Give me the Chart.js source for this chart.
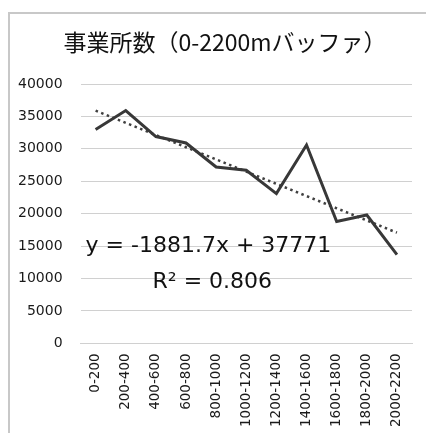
<!DOCTYPE html>
<html>
<head>
<meta charset="utf-8">
<script src="https://cdn.jsdelivr.net/npm/chart.js@4/dist/chart.umd.min.js"></script>
<style>
  html, body { margin: 0; padding: 0; background: #fff; overflow: hidden; }
  #frame {
    position: absolute; left: 8px; top: 12px; width: 440px; height: 440px;
    border-left: 2px solid #c8c8c8; border-top: 2px solid #c8c8c8;
    box-sizing: border-box;
  }
  #wrap { position: absolute; left: 0; top: 0; width: 426px; height: 433px; }
</style>
</head>
<body>
<div id="frame"></div>
<div id="wrap"><canvas id="c"></canvas></div>
<script>
// Distance bands (m) and number of establishments in each band
const bands = ['0-200', '200-400', '400-600', '600-800', '800-1000', '1000-1200',
               '1200-1400', '1400-1600', '1600-1800', '1800-2000', '2000-2200'];
const establishments = [33000, 35900, 31900, 30900, 27200, 26700, 23100, 30600, 18800, 19800, 13700];

// Linear trend reported for the series: y = slope * x + intercept, x = 1..n
const trendSlope = -1881.7;
const trendIntercept = 37771;
const trendR2 = 0.806;

// y axis ticks
const yTicks = [0, 5000, 10000, 15000, 20000, 25000, 30000, 35000, 40000];

const chartTitle = '事業所数（0-2200mバッファ）';

const trendValues = bands.map((_, i) => trendSlope * (i + 1) + trendIntercept);

const equationText = 'y = ' + trendSlope + 'x + ' + trendIntercept;
const r2Text = 'R² = ' + trendR2;

// Title, trendline equation and R² drawn on top of the chart
const textLayer = {
  id: 'textLayer',
  afterDraw(chart) {
    const { ctx, chartArea, scales } = chart;
    ctx.save();
    ctx.fillStyle = '#111';
    ctx.textBaseline = 'middle';

    ctx.font = '23px "Noto Sans CJK JP"';
    ctx.textAlign = 'center';
    ctx.fillText(chartTitle, 225, 42);

    ctx.font = '22px "DejaVu Sans"';
    ctx.textAlign = 'left';
    ctx.fillText(equationText, chartArea.left + 5, scales.y.getPixelForValue(15000));
    ctx.fillText(r2Text, chartArea.left + 72, scales.y.getPixelForValue(9400));
    ctx.restore();
  }
};

new Chart(document.getElementById('c'), {
  type: 'line',
  data: {
    labels: bands,
    datasets: [
      {
        label: '事業所数',
        data: establishments,
        borderColor: '#383838',
        borderWidth: 3,
        pointRadius: 0,
        tension: 0,
        order: 1
      },
      {
        label: '線形近似',
        data: trendValues,
        borderColor: '#404040',
        borderWidth: 2.5,
        borderDash: [2.5, 3.5],
        pointRadius: 0,
        tension: 0,
        order: 2
      }
    ]
  },
  options: {
    responsive: true,
    maintainAspectRatio: false,
    animation: false,
    layout: { padding: { left: 0, right: 14, top: 84, bottom: -4 } },
    plugins: {
      legend: { display: false },
      tooltip: { enabled: false },
      title: { display: false }
    },
    scales: {
      x: {
        offset: true,
        grid: { display: false, drawTicks: false },
        border: { display: true, color: '#d0d0d0', width: 1 },
        ticks: {
          color: '#1a1a1a',
          font: { family: '"DejaVu Sans"', size: 13.5 },
          minRotation: 90,
          maxRotation: 90,
          autoSkip: false,
          padding: 10
        }
      },
      y: {
        min: 0,
        max: 40000,
        afterBuildTicks(scale) { scale.ticks = yTicks.map(v => ({ value: v })); },
        grid: { color: '#d0d0d0', lineWidth: 1, drawTicks: false },
        border: { display: false },
        ticks: {
          color: '#1a1a1a',
          font: { family: '"DejaVu Sans"', size: 14 },
          padding: 18,
          callback: v => String(v)
        }
      }
    }
  },
  plugins: [textLayer]
});
</script>
</body>
</html>
